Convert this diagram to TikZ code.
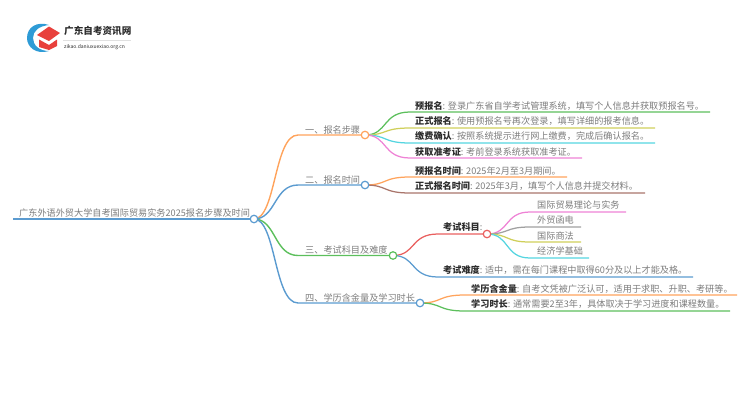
\documentclass[tikz,border=0pt]{standalone}
\usepackage{fontspec}
\setmainfont{Noto Sans CJK SC}
\usepackage{tikz}
\definecolor{cOrange}{HTML}{FFA35C}
\definecolor{cBlue}{HTML}{5B9BD0}
\definecolor{cGreen}{HTML}{5CBF5C}
\definecolor{cLime}{HTML}{CFCF5A}
\definecolor{cCyan}{HTML}{55D5E0}
\definecolor{cPink}{HTML}{EE82D5}
\definecolor{cBrown}{HTML}{A9756B}
\definecolor{cRed}{HTML}{E9605F}
\definecolor{cGray}{HTML}{A0A0A0}
\definecolor{cText}{HTML}{7C7C7C}
\definecolor{cHead}{HTML}{2C2C2C}
\definecolor{cLogoRed}{HTML}{E8403C}
\definecolor{cLogoBlue}{HTML}{2E9BD6}
\tikzset{
  topic/.style={anchor=south west, inner sep=0pt, text=cText, font=\fontsize{9.15}{10}\selectfont},
  leaf/.style={topic, text height=8pt, text depth=2pt},
  joint/.style={shape=circle, draw=#1, fill=white, line width=1.2pt, minimum size=7.5pt, inner sep=0pt},
  branch/.style={draw=#1, line width=1.4pt},
  twig/.style={draw=#1, line width=1.25pt},
}
\newcommand{\hd}[1]{\textbf{\textcolor{cHead}{#1}}}
\begin{document}
\begin{tikzpicture}[x=1pt, y=-1pt]
    \useasboundingbox (0,0) rectangle (750,410);
    % logo
    \fill[cLogoBlue] (49,25) .. controls (37,21) and (27,27) .. (27,38) .. controls (27,47) and (36,55) .. (49,51) .. controls (39,51) and (33,45) .. (33,38) .. controls (33,31) and (39,26) .. (49,25) -- cycle;
    \fill[cLogoRed] (37,35) -- (49,26.5) -- (60,33) -- (49,41) -- cycle;
    \fill[cLogoRed] (39,39.5) -- (49,45) -- (57,39.5) -- (57,46) -- (49,50) -- (39,47) -- cycle;
    \node[anchor=west, inner sep=0pt, text=cHead, font=\fontsize{9.6}{10}\selectfont\bfseries] at (64,31) (logoname) {广东自考资讯网};
    \node[anchor=west, inner sep=0pt, text=cHead, font=\fontsize{5}{5}\selectfont] at (64,47) (logourl) {zikao.daniuxuexiao.org.cn};
    \coordinate (logoa) at (63,40);
    \coordinate (logob) at (131,40);
    \draw[black!12, line width=0.5pt] (logoa) -- (logob);

    % root
    \coordinate (R0) at (13,219);
    \node[topic] at (19,218) (root) {广东外语外贸大学自考国际贸易实务2025报名步骤及时间};
    \draw[branch=cBlue] (R0) -- (250,219);
    \coordinate (Rc) at (254,219);

    % first level
    \node[topic] at (305,134) (T1) {一、报名步骤};
    \node[topic] at (305,184) (T2) {二、报名时间};
    \node[topic] at (305,254.5) (T3) {三、考试科目及难度};
    \node[topic] at (305,302) (T4) {四、学历含金量及学习时长};
    \coordinate (J1) at (365,135);
    \coordinate (J2) at (365,185);
    \coordinate (J3) at (393,255.5);
    \coordinate (J4) at (420,303);
    \draw[branch=cOrange] (Rc) .. controls (276,219) and (274,135) .. (298,135) -- (J1);
    \draw[branch=cBlue] (Rc) .. controls (276,219) and (274,185) .. (298,185) -- (J2);
    \draw[branch=cGreen] (Rc) .. controls (276,219) and (274,255.5) .. (298,255.5) -- (J3);
    \draw[branch=cBlue] (Rc) .. controls (276,219) and (274,303) .. (298,303) -- (J4);

    % second level
    \node[leaf] at (415,111.5) (A1) {\hd{预报名}: 登录广东省自学考试管理系统，填写个人信息并获取预报名号。};
    \node[leaf] at (415,127) (A2) {\hd{正式报名}: 使用预报名号再次登录，填写详细的报考信息。};
    \node[leaf] at (415,142) (A3) {\hd{缴费确认}: 按照系统提示进行网上缴费，完成后确认报名。};
    \node[leaf] at (415,157.5) (A4) {\hd{获取准考证}: 考前登录系统获取准考证。};
    \node[leaf] at (415,176.5) (B1) {\hd{预报名时间}: 2025年2月至3月期间。};
    \node[leaf] at (415,192) (B2) {\hd{正式报名时间}: 2025年3月，填写个人信息并提交材料。};
    \node[leaf] at (443,233) (C1) {\hd{考试科目}:};
    \node[leaf] at (443,276) (C2) {\hd{考试难度}: 适中，需在每门课程中取得60分及以上才能及格。};
    \node[leaf] at (471,294.5) (D1) {\hd{学历含金量}: 自考文凭被广泛认可，适用于求职、升职、考研等。};
    \node[leaf] at (471,310) (D2) {\hd{学习时长}: 通常需要2至3年，具体取决于学习进度和课程数量。};
    \coordinate (J5) at (487,234);
    \draw[twig=cGreen] (J1) .. controls (388,135) and (382,112) .. (410,112) -- (710,112);
    \draw[twig=cLime] (J1) .. controls (388,135) and (382,128) .. (410,128) -- (655,128);
    \draw[twig=cCyan] (J1) .. controls (388,135) and (382,143) .. (410,143) -- (655,143);
    \draw[twig=cPink] (J1) .. controls (388,135) and (382,158) .. (410,158) -- (582,158);
    \draw[twig=cOrange] (J2) .. controls (388,185) and (382,177) .. (410,177) -- (567,177);
    \draw[twig=cBrown] (J2) .. controls (388,185) and (382,193) .. (410,193) -- (645,193);
    \draw[twig=cRed] (J3) .. controls (416,255.5) and (410,234) .. (438,234) -- (J5);
    \draw[twig=cBlue] (J3) .. controls (416,255.5) and (410,277) .. (438,277) -- (693,277);
    \draw[twig=cOrange] (J4) .. controls (443,303) and (437,295) .. (465,295) -- (737,295);
    \draw[twig=cGreen] (J4) .. controls (443,303) and (437,311) .. (465,311) -- (730,311);

    % third level
    \node[leaf] at (537,211) (E1) {国际贸易理论与实务};
    \node[leaf] at (537,226) (E2) {外贸函电};
    \node[leaf] at (537,241.5) (E3) {国际商法};
    \node[leaf] at (537,257) (E4) {经济学基础};
    \draw[twig=cPink] (J5) .. controls (510,234) and (504,212) .. (530,212) -- (626,212);
    \draw[twig=cGray] (J5) .. controls (510,234) and (504,227) .. (530,227) -- (581,227);
    \draw[twig=cLime] (J5) .. controls (510,234) and (504,242) .. (530,242) -- (581,242);
    \draw[twig=cCyan] (J5) .. controls (510,234) and (504,258) .. (530,258) -- (589,258);

    % joints on top
    \node[joint=cBlue] at (Rc) (P0) {};
    \node[joint=cOrange] at (J1) (P1) {};
    \node[joint=cBlue] at (J2) (P2) {};
    \node[joint=cGreen] at (J3) (P3) {};
    \node[joint=cBlue] at (J4) (P4) {};
    \node[joint=cRed] at (J5) (P5) {};
\end{tikzpicture}
\end{document}
